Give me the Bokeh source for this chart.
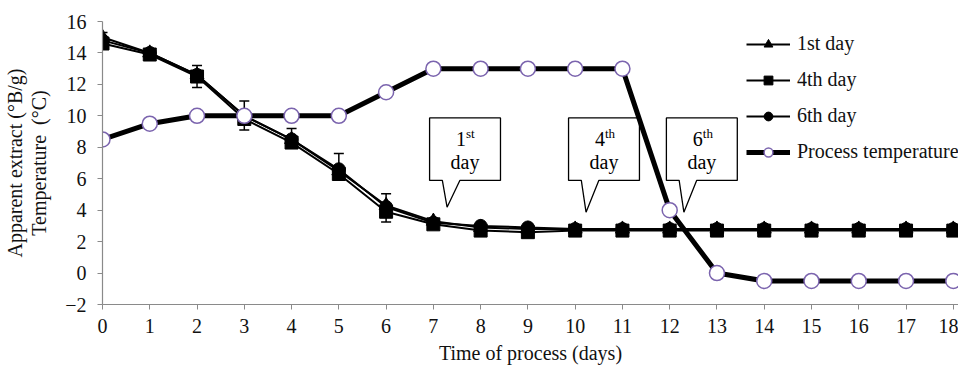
from bokeh.plotting import figure
from bokeh.models import (Range1d, FixedTicker, Legend, LegendItem, Whisker,
                          ColumnDataSource, TeeHead, Title)
from bokeh.core.properties import value
from bokeh.embed import file_html
from bokeh.resources import INLINE

# ---------------- data ----------------
days = list(range(19))
first_day = [15.0, 14.0, 12.6, 10.0, 8.5, 6.5, 4.3, 3.3, 2.9, 2.8, 2.8, 2.8, 2.8, 2.8, 2.8, 2.8, 2.8, 2.8, 2.8]
fourth_day = [14.6, 13.9, 12.5, 9.8, 8.3, 6.3, 3.9, 3.1, 2.7, 2.6, 2.7, 2.7, 2.7, 2.7, 2.7, 2.7, 2.7, 2.7, 2.7]
sixth_day = [14.8, 14.0, 12.6, 10.0, 8.5, 6.6, 4.2, 3.2, 3.0, 2.9, 2.8, 2.8, 2.8, 2.8, 2.8, 2.8, 2.8, 2.8, 2.8]
process_temp = [8.5, 9.5, 10, 10, 10, 10, 11.5, 13, 13, 13, 13, 13, 4, 0, -0.5, -0.5, -0.5, -0.5, -0.5]

err_days = [0, 2, 3, 4, 5, 6]
err_upper = [15.3, 13.2, 10.95, 9.2, 7.6, 5.05]
err_lower = [14.6, 11.8, 9.1, 8.0, 6.1, 3.25]

callout_num = ["1", "4", "6"]
callout_sup = ["st", "th", "th"]
callout_tip_x = [7.29, 10.23, 12.30]
callout_tip_y = [4.19, 3.87, 3.87]

x_ticks = list(range(0, 19))
y_ticks = list(range(-2, 17, 2))

SERIF = "Liberation Serif"
PURPLE = "#7B64AE"
AXIS_GREY = "#8a8a8a"
FS = "20px"

p = figure(width=958, height=367, output_backend="svg", toolbar_location=None,
           x_range=Range1d(0, 18.11), y_range=Range1d(-2, 16),
           min_border_left=102, min_border_right=0, min_border_top=21, min_border_bottom=63)
p.outline_line_color = None
p.grid.visible = False
p.background_fill_color = "white"

for ax in (p.xaxis[0], p.yaxis[0]):
    ax.axis_line_color = AXIS_GREY
    ax.axis_line_width = 1.2
    ax.major_tick_line_color = AXIS_GREY
    ax.major_tick_out = 5
    ax.major_tick_in = 0
    ax.minor_tick_line_color = None
    ax.major_label_text_font = SERIF
    ax.major_label_text_font_size = FS
    ax.major_label_text_color = "#111111"
    ax.axis_label_text_font = SERIF
    ax.axis_label_text_font_size = FS
    ax.axis_label_text_font_style = "normal"
    ax.axis_label_text_color = "#111111"

p.xaxis.ticker = FixedTicker(ticks=x_ticks)
p.yaxis.ticker = FixedTicker(ticks=y_ticks)
p.xaxis.major_label_standoff = 9
p.yaxis.major_label_standoff = 11
p.xaxis.axis_label = "Time of process (days)"
p.xaxis.axis_label_standoff = 6
p.yaxis.axis_label = "Temperature\u00a0 (°C)"
p.yaxis.axis_label_standoff = 12

p.add_layout(Title(text="Apparent extract (°B/g)", align="center", text_font=SERIF,
                   text_font_size=FS, text_font_style="normal",
                   text_color="#111111", standoff=0), "left")

# ---------------- callouts ----------------
box_w, box_top, box_bottom = 1.5, 9.87, 5.89
xs, ys = [], []
for tx, ty in zip(callout_tip_x, callout_tip_y):
    left = tx - 0.37
    right = left + box_w
    xs.append([left, left, right, right, left + 0.64, tx, left + 0.27])
    ys.append([box_bottom, box_top, box_top, box_bottom, box_bottom, ty, box_bottom])
p.patches(xs, ys, fill_color="white", line_color="black", line_width=1.3)
cx = [tx - 0.37 + box_w / 2 for tx in callout_tip_x]
p.text(cx, [box_top] * 3, text=callout_num, text_font=value(SERIF), text_font_size=FS,
       text_align="right", text_baseline="middle", x_offset=1, y_offset=21, text_color="black")
p.text(cx, [box_top] * 3, text=callout_sup, text_font=value(SERIF), text_font_size="13px",
       text_align="left", text_baseline="middle", x_offset=1, y_offset=16, text_color="black")
p.text(cx, [box_top] * 3, text=["day"] * 3, text_font=value(SERIF), text_font_size=FS,
       text_align="center", text_baseline="middle", y_offset=44, text_color="black")

# ---------------- extract series ----------------
l6 = p.line(days, sixth_day, line_color="black", line_width=2)
l1 = p.line(days, first_day, line_color="black", line_width=2)
l4 = p.line(days, fourth_day, line_color="black", line_width=2)

esrc = ColumnDataSource(dict(x=err_days, upper=err_upper, lower=err_lower))
p.add_layout(Whisker(base="x", upper="upper", lower="lower", source=esrc,
                     line_color="black", line_width=1.5,
                     upper_head=TeeHead(size=10, line_width=1.5, line_color="black"),
                     lower_head=TeeHead(size=10, line_width=1.5, line_color="black")))

m6 = p.scatter(days, sixth_day, marker="circle", size=13, fill_color="black", line_color="black")
m1 = p.scatter(days, first_day, marker="triangle", size=14, fill_color="black", line_color="black")
m4 = p.scatter(days, fourth_day, marker="square", size=13, fill_color="black", line_color="black")

# ---------------- process temperature ----------------
lt = p.line(days, process_temp, line_color="black", line_width=5)
mt = p.scatter(days, process_temp, marker="circle", size=15, fill_color="white",
               line_color=PURPLE, line_width=1.5)

legend = Legend(items=[
    LegendItem(label="1st day", renderers=[l1, m1]),
    LegendItem(label="4th day", renderers=[l4, m4]),
    LegendItem(label="6th day", renderers=[l6, m6]),
    LegendItem(label="Process temperature", renderers=[lt, mt]),
], location=(644, 141), orientation="vertical",
    label_text_font=SERIF, label_text_font_size=FS, label_text_color="#111111",
    glyph_width=44, glyph_height=22, label_height=22, spacing=13, label_standoff=7,
    padding=0, margin=0, border_line_color=None, background_fill_alpha=0)
p.add_layout(legend, "center")

open("out.html", "w").write(file_html(p, INLINE))
